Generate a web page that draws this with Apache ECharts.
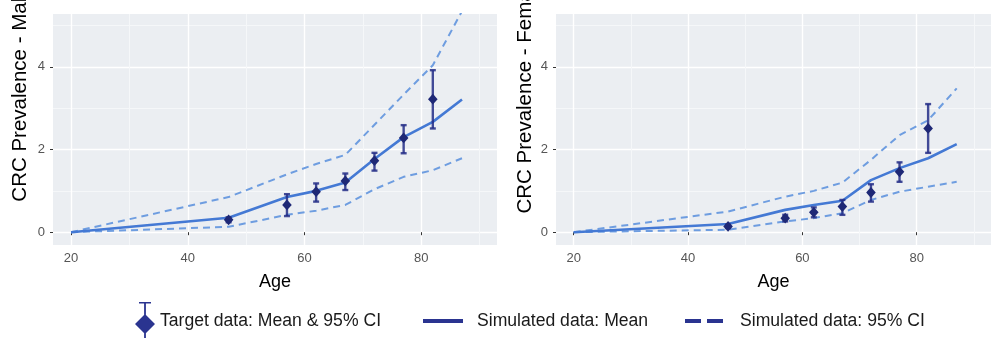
<!DOCTYPE html>
<html><head><meta charset="utf-8">
<script src="https://cdn.jsdelivr.net/npm/echarts@6/dist/echarts.min.js"></script>
<style>html,body{margin:0;padding:0;background:#fff}#c{width:991px;height:338px}</style>
</head><body><div id="c"></div>
<script>
// ---- data ----
const simAges = [20, 47, 57, 62, 67, 72, 77, 82, 87];
const meanMale  = [0, 0.35, 0.85, 1.00, 1.20, 1.77, 2.30, 2.67, 3.21];
const upperMale = [0, 0.85, 1.40, 1.65, 1.87, 2.60, 3.33, 4.04, 5.35];
const lowerMale = [0, 0.13, 0.42, 0.52, 0.66, 1.04, 1.34, 1.50, 1.79];
const meanFemale  = [0, 0.20, 0.54, 0.66, 0.76, 1.26, 1.55, 1.79, 2.13];
const upperFemale = [0, 0.50, 0.86, 1.00, 1.20, 1.75, 2.35, 2.71, 3.48];
const lowerFemale = [0, 0.06, 0.26, 0.34, 0.46, 0.78, 0.98, 1.10, 1.22];

const targetAges = [47, 57, 62, 67, 72, 77, 82];
const targetMale   = [0.30, 0.66, 0.98, 1.24, 1.73, 2.28, 3.22];
const targetMaleLo = [0.24, 0.39, 0.74, 1.02, 1.49, 1.91, 2.51];
const targetMaleHi = [0.36, 0.92, 1.18, 1.42, 1.92, 2.59, 3.92];
const targetFemale   = [0.14, 0.34, 0.48, 0.62, 0.96, 1.46, 2.51];
const targetFemaleLo = [0.10, 0.26, 0.36, 0.42, 0.74, 1.22, 1.92];
const targetFemaleHi = [0.18, 0.42, 0.60, 0.78, 1.16, 1.69, 3.10];

const xTicks = [20, 40, 60, 80];
const yTicks = [0, 2, 4];
const yTitles = ['CRC Prevalence - Male', 'CRC Prevalence - Female'];
const xTitle = 'Age';
const nameTarget = 'Target data: Mean & 95% CI';
const nameMean = 'Simulated data: Mean';
const nameCI = 'Simulated data: 95% CI';

// ---- style ----
const FONT = 'Liberation Sans, Arial, sans-serif';
const PANEL = '#EBEEF2';
const MEAN_C = '#4479D4';
const CI_C = '#6E9DE0';
const ERR_C = 'rgba(35,45,135,0.85)';
const DIA_C = '#1E2876';
const LEG_C = '#2A3490';

const chart = echarts.init(document.getElementById('c'), null, {renderer: 'canvas'});

function pairs(xs, ys) { return xs.map((x, i) => [x, ys[i]]); }
function quads(xs, m, lo, hi) { return xs.map((x, i) => [x, m[i], lo[i], hi[i]]); }

function xAxis(i) {
  return {
    type: 'value', gridIndex: i, min: 16.9, max: 93, splitNumber: 4,
    name: xTitle, nameLocation: 'middle', nameGap: 28,
    nameTextStyle: {fontSize: 18, color: '#000', fontFamily: FONT},
    axisLine: {show: false},
    axisTick: {show: true, length: 3, lineStyle: {color: '#333', width: 1}, customValues: xTicks},
    axisLabel: {margin: 7, color: '#555', fontSize: 13, fontFamily: FONT, customValues: xTicks,
      formatter: v => (xTicks.indexOf(v) >= 0 ? String(v) : '')},
    splitLine: {show: true, lineStyle: {color: '#FFFFFF', width: 1.4}},
    minorTick: {show: false, splitNumber: 2},
    minorSplitLine: {show: true, lineStyle: {color: '#F5F7F9', width: 1}}
  };
}
function yAxis(i) {
  return {
    type: 'value', gridIndex: i, min: -0.31, max: 5.28, splitNumber: 3,
    axisLine: {show: false},
    axisTick: {show: true, length: 3, lineStyle: {color: '#333', width: 1}, customValues: yTicks},
    axisLabel: {margin: 8, color: '#555', fontSize: 13, fontFamily: FONT, customValues: yTicks,
      formatter: v => (yTicks.indexOf(v) >= 0 ? String(v) : '')},
    splitLine: {show: true, lineStyle: {color: '#FFFFFF', width: 1.4}},
    minorTick: {show: false, splitNumber: 2},
    minorSplitLine: {show: true, lineStyle: {color: '#F5F7F9', width: 1}}
  };
}

function lineSeries(name, i, ys, color, width, dashed) {
  return {
    type: 'line', name: name, xAxisIndex: i, yAxisIndex: i,
    data: pairs(simAges, ys), symbol: 'none', smooth: false, z: 2,
    lineStyle: {color: color, width: width, type: dashed ? [7, 5] : 'solid'},
    itemStyle: {color: color}
  };
}

function targetSeries(i, m, lo, hi) {
  return {
    type: 'custom', name: nameTarget, xAxisIndex: i, yAxisIndex: i, z: 5,
    data: quads(targetAges, m, lo, hi),
    itemStyle: {color: DIA_C},
    renderItem: function (params, api) {
      const x = api.value(0);
      const pm = api.coord([x, api.value(1)]);
      const pl = api.coord([x, api.value(2)]);
      const ph = api.coord([x, api.value(3)]);
      const cw = 3, dw = 4.8, dh = 5.4;
      const ls = {stroke: ERR_C, lineWidth: 2.4};
      return {type: 'group', children: [
        {type: 'line', shape: {x1: pl[0], y1: pl[1], x2: ph[0], y2: ph[1]}, style: ls},
        {type: 'line', shape: {x1: ph[0] - cw, y1: ph[1], x2: ph[0] + cw, y2: ph[1]}, style: ls},
        {type: 'line', shape: {x1: pl[0] - cw, y1: pl[1], x2: pl[0] + cw, y2: pl[1]}, style: ls},
        {type: 'polygon', shape: {points: [[pm[0], pm[1] - dh], [pm[0] + dw, pm[1]], [pm[0], pm[1] + dh], [pm[0] - dw, pm[1]]]},
          style: {fill: DIA_C}}
      ]};
    }
  };
}

const legendText = {fontSize: 17.6, color: '#1a1a1a', fontFamily: FONT};

const option = {
  animation: false,
  backgroundColor: '#fff',
  grid: [
    {left: 53, top: 14, width: 444, height: 231, show: true, backgroundColor: PANEL, borderWidth: 0},
    {left: 556, top: 14, width: 444, height: 231, show: true, backgroundColor: PANEL, borderWidth: 0}
  ],
  xAxis: [xAxis(0), xAxis(1)],
  yAxis: [yAxis(0), yAxis(1)],
  legend: [
    {left: 135, top: 302, padding: 0, selectedMode: false, itemWidth: 20, itemHeight: 38,
      textStyle: legendText,
      data: [{name: nameTarget, icon: 'path://M4,0H16V1.6H4Z M9.1,0H10.9V38H9.1Z M10,12L20,22L10,32L0,22Z',
        itemStyle: {color: LEG_C, borderWidth: 0}}]},
    {left: 423, top: 312, padding: 0, selectedMode: false, itemWidth: 40, itemHeight: 4,
      textStyle: Object.assign({padding: [0, 0, 0, 9]}, legendText),
      data: [{name: nameMean, icon: 'rect', itemStyle: {color: LEG_C, borderWidth: 0}}]},
    {left: 685, top: 312, padding: 0, selectedMode: false, itemWidth: 38, itemHeight: 4,
      textStyle: Object.assign({padding: [0, 0, 0, 12]}, legendText),
      data: [{name: nameCI, icon: 'path://M0,0H16V4H0Z M22,0H38V4H22Z', itemStyle: {color: LEG_C, borderWidth: 0}}]}
  ],
  graphic: [
    {type: 'text', x: 20, y: 94, rotation: Math.PI / 2, silent: true,
      style: {text: yTitles[0], font: '20.5px ' + FONT, fill: '#000', textAlign: 'center', textVerticalAlign: 'middle'}},
    {type: 'text', x: 525, y: 94, rotation: Math.PI / 2, silent: true,
      style: {text: yTitles[1], font: '20.5px ' + FONT, fill: '#000', textAlign: 'center', textVerticalAlign: 'middle'}}
  ],
  series: [
    lineSeries(nameCI, 0, upperMale, CI_C, 2, true),
    lineSeries(nameCI, 0, lowerMale, CI_C, 2, true),
    lineSeries(nameMean, 0, meanMale, MEAN_C, 2.6, false),
    targetSeries(0, targetMale, targetMaleLo, targetMaleHi),
    lineSeries(nameCI, 1, upperFemale, CI_C, 2, true),
    lineSeries(nameCI, 1, lowerFemale, CI_C, 2, true),
    lineSeries(nameMean, 1, meanFemale, MEAN_C, 2.6, false),
    targetSeries(1, targetFemale, targetFemaleLo, targetFemaleHi)
  ]
};
chart.setOption(option);
</script></body></html>
